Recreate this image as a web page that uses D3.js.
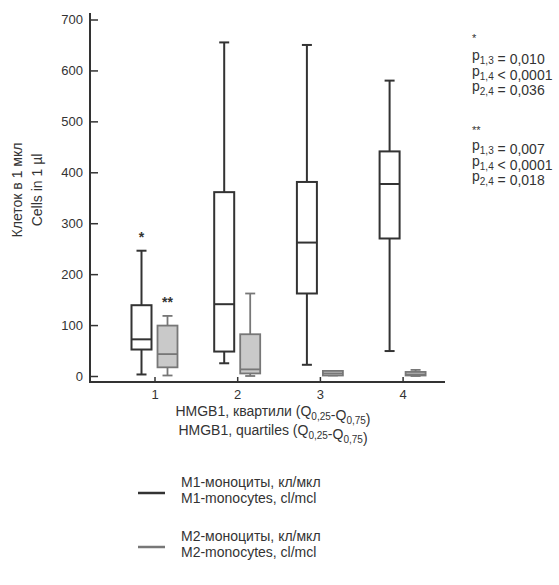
<!DOCTYPE html>
<html>
<head>
<meta charset="utf-8">
<script src="https://cdn.jsdelivr.net/npm/d3@7"></script>
<style>
  body { margin: 0; background: #fff; }
  text { font-family: "Liberation Sans", Arial, sans-serif; fill: #333; }
</style>
</head>
<body>
<div id="container"></div>
<script>
// Quartile groups of HMGB1
const categories = ["1", "2", "3", "4"];
const yTicks = [0, 100, 200, 300, 400, 500, 600, 700];

// M1-monocytes (min, Q1, median, Q3, max)
const m1Min = [3, 25, 22, 49];
const m1Q1 = [52, 48, 162, 270];
const m1Med = [72, 141, 262, 377];
const m1Q3 = [139, 361, 381, 441];
const m1Max = [246, 655, 650, 580];

// M2-monocytes
const m2Min = [1, 0, 1, 0];
const m2Q1 = [17, 5, 1, 1];
const m2Med = [43, 13, 5, 3];
const m2Q3 = [99, 82, 10, 8];
const m2Max = [118, 162, 10, 12];

const marks = ["*", "**"]; // stars above group 1

const width = 559, height = 585;

const svg = d3.select("#container").append("svg")
	.attr("width", width)
	.attr("height", height);

const y = d3.scaleLinear().domain([0, 700]).range([376, 19.5]);
const x = d3.scalePoint().domain(categories).range([154.5, 402.6]);

const dark = "#333", grey = "#777", greyFill = "#c9c9c9";

// Axes
const yAxis = svg.append("g")
	.attr("transform", "translate(90,0)")
	.call(d3.axisLeft(y).tickValues(yTicks).tickSize(-8).tickPadding(7));
yAxis.select(".domain").remove();
yAxis.selectAll(".tick line").attr("stroke", dark).attr("stroke-width", 1.5);
yAxis.selectAll("text").attr("font-size", 13).style("font-family", "Liberation Sans, Arial, sans-serif").attr("fill", dark);

const xAxis = svg.append("g")
	.attr("transform", "translate(0,382)")
	.call(d3.axisBottom(x).tickSize(-5).tickPadding(8));
xAxis.select(".domain").remove();
xAxis.selectAll(".tick line").attr("stroke", dark).attr("stroke-width", 1.5);
xAxis.selectAll("text").attr("font-size", 13).style("font-family", "Liberation Sans, Arial, sans-serif").attr("fill", dark);

svg.append("line").attr("x1", 90).attr("x2", 90).attr("y1", 13).attr("y2", 383)
	.attr("stroke", dark).attr("stroke-width", 2);
svg.append("line").attr("x1", 89).attr("x2", 445).attr("y1", 382).attr("y2", 382)
	.attr("stroke", dark).attr("stroke-width", 2);

// Box plots
function drawBoxes(mins, q1s, meds, q3s, maxs, offset, stroke, fill, sw) {
	const g = svg.append("g");
	const bw = 20;
	categories.forEach((c, i) => {
		const cx = x(c) + offset;
		const b = g.append("g");
		b.append("line").attr("x1", cx).attr("x2", cx).attr("y1", y(maxs[i])).attr("y2", y(mins[i]))
			.attr("stroke", stroke).attr("stroke-width", sw);
		b.append("line").attr("x1", cx - 5).attr("x2", cx + 5).attr("y1", y(maxs[i])).attr("y2", y(maxs[i]))
			.attr("stroke", stroke).attr("stroke-width", sw);
		b.append("line").attr("x1", cx - 5).attr("x2", cx + 5).attr("y1", y(mins[i])).attr("y2", y(mins[i]))
			.attr("stroke", stroke).attr("stroke-width", sw);
		b.append("rect").attr("x", cx - bw / 2).attr("width", bw)
			.attr("y", y(q3s[i])).attr("height", Math.max(y(q1s[i]) - y(q3s[i]), 2))
			.attr("fill", fill).attr("stroke", stroke).attr("stroke-width", sw);
		b.append("line").attr("x1", cx - bw / 2).attr("x2", cx + bw / 2).attr("y1", y(meds[i])).attr("y2", y(meds[i]))
			.attr("stroke", stroke).attr("stroke-width", sw);
	});
}
drawBoxes(m1Min, m1Q1, m1Med, m1Q3, m1Max, -13, dark, "#fff", 2);
drawBoxes(m2Min, m2Q1, m2Med, m2Q3, m2Max, 13, grey, greyFill, 1.8);

// Significance stars
svg.append("text").attr("x", x(categories[0]) - 13).attr("y", y(m1Max[0]) - 9)
	.attr("text-anchor", "middle").attr("font-size", 14).attr("font-weight", "bold").text(marks[0]);
svg.append("text").attr("x", x(categories[0]) + 13).attr("y", y(m2Max[0]) - 9)
	.attr("text-anchor", "middle").attr("font-size", 14).attr("font-weight", "bold").text(marks[1]);

// Axis titles
const yt = svg.append("g").attr("transform", "translate(0,190) rotate(-90)");
yt.append("text").attr("x", 0).attr("y", 22).attr("text-anchor", "middle").attr("font-size", 14).text("Клеток в 1 мкл");
yt.append("text").attr("x", 0).attr("y", 42).attr("text-anchor", "middle").attr("font-size", 14).text("Cells in 1 µl");

function subText(sel, px, py, parts, anchor) {
	const t = sel.append("text").attr("x", px).attr("y", py).attr("font-size", 14).attr("text-anchor", anchor || "start");
	parts.forEach(p => {
		if (p.sub) {
			t.append("tspan").attr("font-size", 10).attr("dy", 4).text(p.sub);
			t.append("tspan").attr("dy", -4).text("");
		} else {
			t.append("tspan").text(p.t);
		}
	});
	return t;
}

subText(svg, 273, 416, [{t: "HMGB1, квартили (Q"}, {sub: "0,25"}, {t: "-Q"}, {sub: "0,75"}, {t: ")"}], "middle");
subText(svg, 273, 435, [{t: "HMGB1, quartiles (Q"}, {sub: "0,25"}, {t: "-Q"}, {sub: "0,75"}, {t: ")"}], "middle");

// p-value notes
const pLabels1 = [["1,3", " = 0,010"], ["1,4", " < 0,0001"], ["2,4", " = 0,036"]];
const pLabels2 = [["1,3", " = 0,007"], ["1,4", " < 0,0001"], ["2,4", " = 0,018"]];
const noteX = 472;
svg.append("text").attr("x", noteX).attr("y", 42).attr("font-size", 11).text("*");
pLabels1.forEach((p, i) => subText(svg, noteX, 60 + i * 15.5, [{t: "p"}, {sub: p[0]}, {t: p[1]}]));
svg.append("text").attr("x", noteX).attr("y", 134).attr("font-size", 11).text("**");
pLabels2.forEach((p, i) => subText(svg, noteX, 150 + i * 15.5, [{t: "p"}, {sub: p[0]}, {t: p[1]}]));

// Legend
const legend = [
	{ru: "M1-моноциты, кл/мкл", en: "M1-monocytes, cl/mcl", color: dark, y: 493},
	{ru: "M2-моноциты, кл/мкл", en: "M2-monocytes, cl/mcl", color: grey, y: 547}
];
legend.forEach(l => {
	svg.append("line").attr("x1", 138).attr("x2", 165).attr("y1", l.y).attr("y2", l.y)
		.attr("stroke", l.color).attr("stroke-width", 2.5);
	svg.append("text").attr("x", 181).attr("y", l.y - 6).attr("font-size", 14).text(l.ru);
	svg.append("text").attr("x", 181).attr("y", l.y + 10).attr("font-size", 14).text(l.en);
});
</script>
</body>
</html>
